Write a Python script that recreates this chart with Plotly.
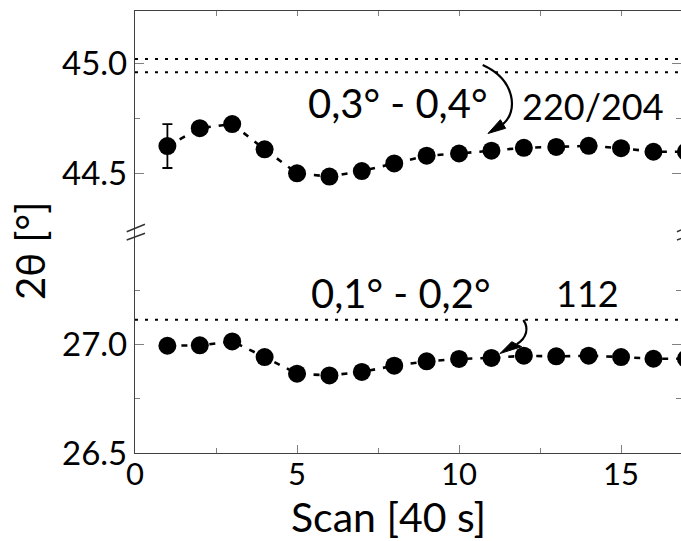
import plotly.graph_objects as go

# Peak positions per scan (2θ in degrees)
scan = list(range(1, 18))
peak_220_204 = [44.624, 44.705, 44.724, 44.609, 44.500, 44.485, 44.510, 44.545,
                44.580, 44.590, 44.603, 44.616, 44.620, 44.625, 44.614, 44.598, 44.598]
peak_112 = [26.995, 26.997, 27.015, 26.943, 26.866, 26.858, 26.874, 26.903,
            26.923, 26.934, 26.939, 26.949, 26.946, 26.949, 26.943, 26.935, 26.935]
first_scan_error = 0.1
ref_220_204 = [45.02, 44.96]
ref_112 = [27.115]

x_range = [0, 16.85]
top_range = [44.233, 45.238]
bottom_range = [26.5, 27.52]
top_ticks = [44.5, 45.0]
top_minor = [44.75]
bottom_ticks = [26.5, 27.0]
bottom_minor = [26.75, 27.25]

FONT = "Lato"
# plot-area geometry in pixels (figure 681 x 541)
L, R, T, B = 135, 681, 11, 453


def paper(px, py):
    return (px - L) / (R - L), (B - py) / (B - T)


fig = go.Figure()

marker = dict(symbol="circle", size=18, color="black")
line = dict(color="black", width=2.6, dash="6px,8px")

# first-scan uncertainty
fig.add_trace(go.Scatter(
    x=scan[:1], y=peak_220_204[:1], mode="markers",
    marker=dict(size=1, color="black"),
    error_y=dict(type="data", array=[first_scan_error], color="black",
                 thickness=1.8, width=5),
    xaxis="x", yaxis="y", showlegend=False, hoverinfo="skip"))

fig.add_trace(go.Scatter(x=scan, y=peak_220_204, mode="lines+markers",
                         marker=marker, line=line, xaxis="x", yaxis="y",
                         showlegend=False))
fig.add_trace(go.Scatter(x=scan, y=peak_112, mode="lines+markers",
                         marker=marker, line=line, xaxis="x2", yaxis="y2",
                         showlegend=False))

dotted = dict(color="black", width=2, dash="3px,7px")
shapes = []
for v in ref_220_204:
    shapes.append(dict(type="line", xref="x domain", yref="y", x0=0, x1=1,
                       y0=v, y1=v, line=dotted))
for v in ref_112:
    shapes.append(dict(type="line", xref="x2 domain", yref="y2", x0=0, x1=1,
                       y0=v, y1=v, line=dotted))


def curve(p0, p1, p2, p3):
    pts = [paper(*p) for p in (p0, p1, p2, p3)]
    d = "M {:.4f},{:.4f} C {:.4f},{:.4f} {:.4f},{:.4f} {:.4f},{:.4f}".format(
        *[c for pt in pts for c in pt])
    return dict(type="path", xref="paper", yref="paper", path=d,
                line=dict(color="black", width=2.2))


def head(tip, b1, b2):
    pts = [paper(*p) for p in (tip, b1, b2)]
    d = "M {:.4f},{:.4f} L {:.4f},{:.4f} L {:.4f},{:.4f} Z".format(
        *[c for pt in pts for c in pt])
    return dict(type="path", xref="paper", yref="paper", path=d,
                fillcolor="black", line=dict(color="black", width=1))


# arrow to the 220/204 series
shapes.append(curve((482.7, 65), (516, 80), (518, 112), (503, 124)))
shapes.append(head((488, 133.5), (500.4, 119.7), (505.6, 128.3)))
# arrow to the 112 series
shapes.append(curve((523.3, 320), (529, 328), (527, 338), (516.7, 344.2)))
shapes.append(head((500, 353.5), (511.7, 341.7), (521.7, 346.7)))

# axis break marks
for xa, xb in ((126.7, 145), (677, 695)):
    for ya, yb in ((231.7, 224.3), (240, 233.3)):
        (x0, y0), (x1, y1) = paper(xa, ya), paper(xb, yb)
        shapes.append(dict(type="line", xref="paper", yref="paper",
                           x0=x0, y0=y0, x1=x1, y1=y1,
                           line=dict(color="#333333", width=1.5)))

annotations = []


def label(text, px, py, size, **kw):
    x, y = paper(px, py)
    annotations.append(dict(text=text, x=x, y=y, xref="paper", yref="paper",
                            showarrow=False, xanchor="center", yanchor="middle",
                            font=dict(family=FONT, size=size, color="black"), **kw))


label("0,3° - 0,4°", 397, 103, 40)
label("220/204", 593, 106, 36)
label("0,1° - 0,2°", 400, 293, 40)
label("112", 587, 293, 36)
label("Scan [40 s]", 388.5, 516, 41)
label("2θ [°]", 30, 251, 40, textangle=-90)

axis_common = dict(showline=True, linecolor="#404040", linewidth=1.3,
                   ticks="inside", tickcolor="#808080", showgrid=False,
                   zeroline=False, automargin=False)

minor_y = dict(ticks="inside", ticklen=5, tickcolor="#808080")

fig.update_layout(
    width=681, height=541,
    margin=dict(l=L, r=681 - R, t=T, b=541 - B),
    paper_bgcolor="white", plot_bgcolor="white",
    font=dict(family=FONT, color="black"),
    xaxis=dict(domain=[0, 1], anchor="y", side="top", range=x_range,
               showticklabels=False, tickmode="linear", tick0=0, dtick=2.5,
               ticklen=5, **axis_common),
    xaxis2=dict(domain=[0, 1], anchor="y2", side="bottom", range=x_range,
                tickmode="linear", tick0=0, dtick=5, ticklen=8,
                ticklabelstandoff=-6,
                tickfont=dict(family=FONT, size=31, color="black"),
                minor=dict(ticks="inside", dtick=2.5, ticklen=5, tickcolor="#808080"),
                **axis_common),
    yaxis=dict(domain=[0.5, 1], anchor="x", range=top_range, mirror="ticks",
               tickvals=top_ticks, ticktext=[f"{v:.1f}" for v in top_ticks],
               ticklen=9,
               tickfont=dict(family=FONT, size=33, color="black"),
               minor=dict(tickvals=top_minor, **minor_y),
               **axis_common),
    yaxis2=dict(domain=[0, 0.5], anchor="x2", range=bottom_range, mirror="ticks",
                tickvals=bottom_ticks, ticktext=[f"{v:.1f}" for v in bottom_ticks],
                ticklen=9,
                tickfont=dict(family=FONT, size=33, color="black"),
                minor=dict(tickvals=bottom_minor, **minor_y),
                **axis_common),
    shapes=shapes,
    annotations=annotations,
)

fig.write_html("out.html")
